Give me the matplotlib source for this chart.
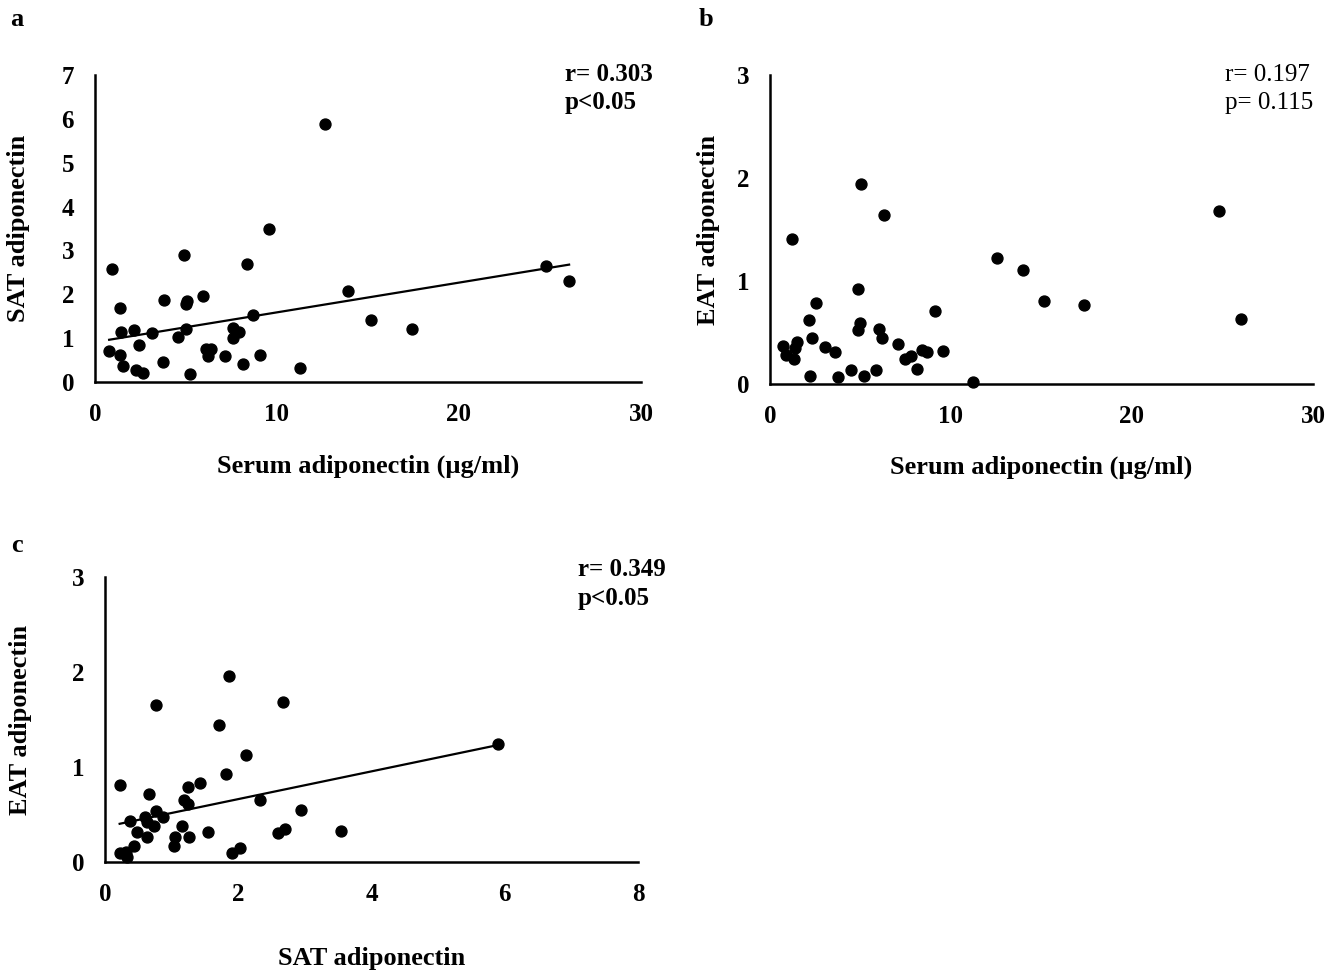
import numpy as np
import matplotlib
matplotlib.use('Agg')
import matplotlib.pyplot as plt

# panel a: serum vs SAT adiponectin
serum_a = [0.96, 1.37, 1.43, 2.15, 3.14, 2.40, 0.78, 1.37, 1.54, 2.25, 2.66, 3.73, 3.79,
           4.92, 5.06, 4.98, 4.98, 4.57, 5.96, 5.23, 6.09, 6.35, 6.21, 7.17, 7.58, 7.89,
           7.58, 8.11, 8.38, 8.67, 9.08, 9.57, 11.27, 12.62, 13.93, 15.14, 17.40, 24.80, 26.05]
sat_a = [2.58, 1.68, 1.15, 1.18, 1.12, 0.85, 0.71, 0.62, 0.36, 0.28, 0.20, 0.45, 1.87,
         2.90, 1.84, 1.77, 1.21, 1.02, 1.97, 0.19, 0.76, 0.76, 0.59, 0.59, 1.23, 1.15,
         1.01, 0.42, 2.68, 1.52, 0.62, 3.50, 0.32, 5.88, 2.08, 1.42, 1.21, 2.64, 2.30]
fit_a = (0.0678, 0.91)   # slope, intercept of trend line

# panel b: serum vs EAT adiponectin
serum_b = [1.23, 5.05, 6.32, 24.79, 12.56, 13.96, 15.15, 17.36, 26.02, 4.87, 2.52, 2.13,
           9.11, 4.97, 4.87, 6.00, 6.20, 2.33, 0.74, 1.47, 1.39, 0.87, 1.33, 3.02, 3.58,
           7.08, 8.39, 8.69, 9.58, 7.46, 7.79, 8.13, 2.23, 3.74, 4.49, 5.21, 5.85, 11.23]
eat_b = [1.41, 1.94, 1.64, 1.68, 1.22, 1.11, 0.81, 0.77, 0.63, 0.92, 0.79, 0.62,
         0.71, 0.59, 0.52, 0.53, 0.45, 0.45, 0.37, 0.41, 0.35, 0.28, 0.24, 0.36, 0.31,
         0.39, 0.33, 0.31, 0.32, 0.24, 0.27, 0.15, 0.08, 0.07, 0.14, 0.08, 0.14, 0.02]

# panel c: SAT vs EAT adiponectin
sat_c = [1.86, 0.76, 2.67, 1.71, 5.90, 2.11, 1.82, 0.22, 1.24, 1.42, 0.66, 2.32, 1.19,
         1.24, 2.94, 0.77, 0.60, 0.87, 0.37, 0.63, 0.74, 0.48, 0.63, 1.16, 1.05, 1.26,
         1.55, 1.04, 0.44, 2.70, 2.59, 3.54, 1.90, 2.02, 0.22, 0.31, 0.33]
eat_c = [1.96, 1.65, 1.68, 1.44, 1.24, 1.13, 0.93, 0.81, 0.79, 0.83, 0.72, 0.65, 0.65,
         0.61, 0.55, 0.54, 0.47, 0.47, 0.43, 0.42, 0.38, 0.32, 0.26, 0.38, 0.26, 0.26,
         0.32, 0.17, 0.17, 0.35, 0.30, 0.33, 0.09, 0.15, 0.09, 0.10, 0.05]
fit_c = (0.146, 0.37)

plt.rcParams['font.family'] = 'Liberation Serif'
plt.rcParams['font.weight'] = 'bold'
plt.rcParams['font.size'] = 18


def style_axes(ax, xticks, yticks):
    for side in ['top', 'right']:
        ax.spines[side].set_visible(False)
    for side in ['left', 'bottom']:
        ax.spines[side].set_linewidth(1.8)
    ax.set_xlim(xticks[0], xticks[-1])
    ax.set_ylim(yticks[0], yticks[-1])
    ax.set_xticks(xticks)
    ax.set_yticks(yticks)
    ax.tick_params(length=0, pad=15, labelsize=18)
    for lab in ax.get_xticklabels() + ax.get_yticklabels():
        lab.set_fontweight('bold')


def trend(ax, x, fit):
    xs = np.array([min(x), max(x)])
    ax.plot(xs, fit[0] * xs + fit[1], color='black', lw=1.6, clip_on=False)


fig = plt.figure(figsize=(13.41, 9.74), dpi=100)

# a
ax1 = fig.add_axes([0.0708, 0.6078, 0.4072, 0.3152])
ax1.scatter(serum_a, sat_a, s=62, color='black', clip_on=False, zorder=3)
trend(ax1, serum_a, fit_a)
style_axes(ax1, [0, 10, 20, 30], list(range(8)))
ax1.set_ylabel('SAT adiponectin', fontsize=19, fontweight='bold')
ax1.set_xlabel('Serum adiponectin (\u00b5g/ml)', fontsize=19, fontweight='bold')
ax1.yaxis.set_label_coords(-0.119, 0.5)
ax1.xaxis.set_label_coords(0.5, -0.238)
ax1.text(0.861, 1.0, 'r= 0.303', transform=ax1.transAxes, va='center', fontsize=18, fontweight='bold')
ax1.text(0.861, 0.909, 'p<0.05', transform=ax1.transAxes, va='center', fontsize=18, fontweight='bold')

# b
ax2 = fig.add_axes([0.5742, 0.6057, 0.4049, 0.3172])
ax2.scatter(serum_b, eat_b, s=62, color='black', clip_on=False, zorder=3)
style_axes(ax2, [0, 10, 20, 30], [0, 1, 2, 3])
ax2.set_ylabel('EAT adiponectin', fontsize=19, fontweight='bold')
ax2.set_xlabel('Serum adiponectin (\u00b5g/ml)', fontsize=19, fontweight='bold')
ax2.yaxis.set_label_coords(-0.092, 0.5)
ax2.xaxis.set_label_coords(0.5, -0.230)
ax2.text(0.838, 1.0, 'r= 0.197', transform=ax2.transAxes, va='center', fontsize=18, fontweight='normal')
ax2.text(0.838, 0.909, 'p= 0.115', transform=ax2.transAxes, va='center', fontsize=18, fontweight='normal')

# c
ax3 = fig.add_axes([0.0783, 0.1150, 0.3975, 0.2926])
ax3.scatter(sat_c, eat_c, s=62, color='black', clip_on=False, zorder=3)
trend(ax3, sat_c, fit_c)
style_axes(ax3, [0, 2, 4, 6, 8], [0, 1, 2, 3])
ax3.set_ylabel('EAT adiponectin', fontsize=19, fontweight='bold')
ax3.set_xlabel('SAT adiponectin', fontsize=19, fontweight='bold')
ax3.yaxis.set_label_coords(-0.137, 0.5)
ax3.xaxis.set_label_coords(0.5, -0.298)
ax3.text(0.887, 1.025, 'r= 0.349', transform=ax3.transAxes, va='center', fontsize=18, fontweight='bold')
ax3.text(0.887, 0.926, 'p<0.05', transform=ax3.transAxes, va='center', fontsize=18, fontweight='bold')

fig.text(17 / 1341, 1 - 20 / 974, 'a', fontsize=19, fontweight='bold', va='center', ha='center')
fig.text(706 / 1341, 1 - 20 / 974, 'b', fontsize=19, fontweight='bold', va='center', ha='center')
fig.text(17 / 1341, 1 - 545 / 974, 'c', fontsize=19, fontweight='bold', va='center', ha='center')

fig.savefig('out.png', dpi=100)
